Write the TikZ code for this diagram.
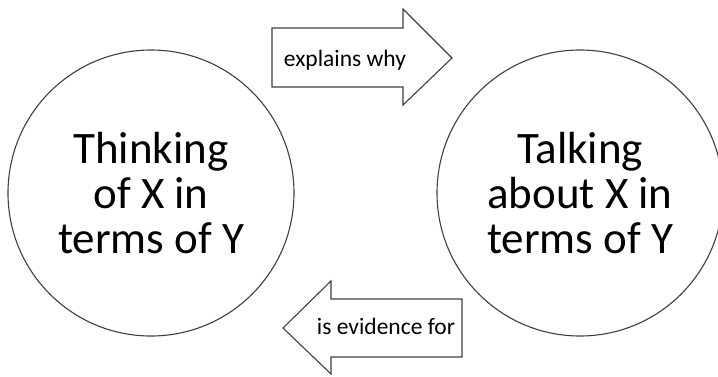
\documentclass[tikz,border=0pt]{standalone}
\usepackage{fontspec}
\setmainfont{Carlito}
\begin{document}
\begin{tikzpicture}[x=1pt,y=-1pt,
  outline/.style={draw=black!75,line width=1.1pt,fill=white},
  bigcircle/.style={outline,circle,minimum size=286pt,inner sep=0pt},
  bigtext/.style={align=center,font=\fontsize{45}{45}\selectfont,text=black},
  smalltext/.style={font=\fontsize{23.5}{26}\selectfont,text=black,inner sep=0pt,anchor=base}]
  \useasboundingbox (0,0) rectangle (718,376);
  \clip (0,0) rectangle (718,376);
  \fill[white] (0,0) rectangle (718,376);

  % the two ideas
  \node[bigcircle] (think) at (151,193) {};
  \node[bigcircle] (talk)  at (580,193) {};
  \node[bigtext] (thinktxt) at (think.center) {Thinking\\of X in\\terms of Y};
  \node[bigtext] (talktxt)  at (talk.center)  {Talking\\about X in\\terms of Y};

  % block arrow pointing right
  \draw[outline,line join=miter] (272,28) -- (403,28) -- (403,9) -- (452,58)
    -- (403,105) -- (403,87) -- (272,87) -- cycle;
  \node[smalltext] (explains) at (345,66) {explains why};

  % block arrow pointing left
  \draw[outline,line join=miter] (462,299) -- (331,299) -- (331,281) -- (283,328)
    -- (331,374) -- (331,357) -- (462,357) -- cycle;
  \node[smalltext] (evidence) at (386,334) {is evidence for};
\end{tikzpicture}
\end{document}
